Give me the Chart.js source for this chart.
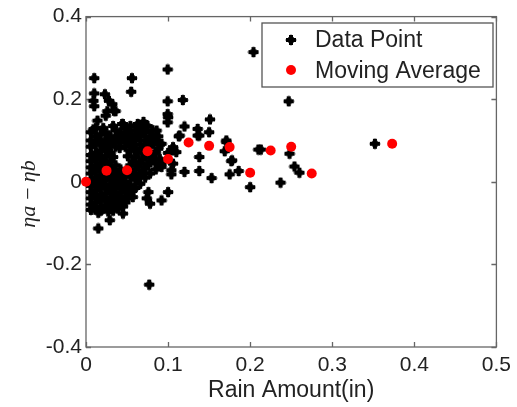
<!DOCTYPE html>
<html>
<head>
<meta charset="utf-8">
<script src="https://cdn.jsdelivr.net/npm/chart.js@4.4.0/dist/chart.umd.min.js"></script>
<style>
body { margin: 0; background: #fff; }
#wrap { width: 517px; height: 407px; }
</style>
</head>
<body>
<div id="wrap"><canvas id="myChart" width="517" height="407"></canvas></div>
<script>
// tick labels
var xTickLabels = ['0', '0.1', '0.2', '0.3', '0.4', '0.5'];
var yTickLabels = ['-0.4', '-0.2', '0', '0.2', '0.4'];

// moving average (rain amount, eta a - eta b)
var avgRain = [0, 0.025, 0.05, 0.075, 0.1, 0.125, 0.15, 0.175, 0.2, 0.225, 0.25, 0.275, 0.373];
var avgDiff = [0, 0.027, 0.028, 0.074, 0.055, 0.095, 0.087, 0.084, 0.022, 0.076, 0.085, 0.02, 0.092];

// scattered data points [rain, diff]
var outerPoints = [
    [0.01,0.251],[0.056,0.251],[0.0995,0.272],[0.055,0.218],[0.01,0.214],[0.023,0.212],
    [0.01,0.183],[0.028,0.196],[0.032,0.188],[0.026,0.171],[0.036,0.171],[0.0995,0.195],
    [0.0995,0.164],[0.0995,0.144],[0.014,0.148],[0.024,0.16],[0.204,0.314],[0.118,0.198],
    [0.1,0.156],[0.151,0.151],[0.12,0.134],[0.136,0.128],[0.136,0.112],[0.15,0.12],
    [0.171,0.1],[0.114,0.112],[0.138,0.112],[0.171,0.096],[0.169,0.074],[0.21,0.078],
    [0.138,0.06],[0.177,0.05],[0.12,0.024],[0.138,0.026],[0.153,0.009],[0.175,0.018],
    [0.186,0.026],[0.2,-0.013],[0.104,0.028],[0.104,0.018],[0.1,-0.025],[0.092,-0.045],
    [0.213,0.078],[0.248,0.068],[0.254,0.037],[0.26,0.022],[0.237,-0.002],[0.352,0.092],
    [0.247,0.195],[0.178,0.052],[0.113,0.11],[0.078,-0.053],[0.074,-0.04],[0.076,-0.025],
    [0.057,-0.037],[0.045,-0.077],[0.029,-0.093],[0.015,-0.113],[0.077,-0.249],[0.086,0.124],
    [0.084,0.108],[0.092,0.092],[0.08,0.06],[0.092,0.036],[0.106,0.084],[0.106,0.044],
    [0.11,0.072],[0.063,0.14],[0.034,0.172],[0.009,0.196],[0.1,0.07],[0.106,0.076],
    [0.092,0.044],[0.044,0.14],[0.07,0.145]
];

// the dense cluster near zero rain
var clusterPoints = [
    [0.006,0.12],[0.006,0.1],[0.006,0.085],[0.006,0.065],[0.006,0.05],[0.006,0.035],[0.006,0.02],
    [0.006,0.005],[0.006,-0.01],[0.006,-0.025],[0.006,-0.04],[0.006,-0.055],[0.006,-0.068],
    [0.012,0.13],[0.012,0.11],[0.012,0.09],[0.012,0.07],[0.012,0.055],[0.012,0.04],[0.012,0.025],
    [0.012,0.01],[0.012,-0.005],[0.012,-0.02],[0.012,-0.035],[0.012,-0.05],[0.012,-0.065],
    [0.018,0.115],[0.018,0.095],[0.018,0.075],[0.018,0.06],[0.018,0.045],[0.018,0.03],[0.018,0.015],
    [0.018,0.0],[0.018,-0.015],[0.018,-0.03],[0.018,-0.045],[0.018,-0.06],[0.018,-0.07],
    [0.024,0.12],[0.024,0.1],[0.024,0.08],[0.024,0.062],[0.024,0.048],[0.024,0.018],[0.024,0.005],
    [0.024,-0.01],[0.024,-0.028],[0.024,-0.042],[0.024,-0.058],
    [0.03,0.11],[0.03,0.09],[0.03,0.07],[0.03,0.05],[0.03,0.035],[0.03,0.022],[0.03,0.008],
    [0.03,-0.008],[0.03,-0.022],[0.03,-0.038],[0.03,-0.052],[0.03,-0.066],
    [0.036,0.125],[0.036,0.1],[0.036,0.085],[0.036,0.04],[0.036,0.015],[0.036,0.0],[0.036,-0.015],
    [0.036,-0.03],[0.036,-0.048],[0.036,-0.06],
    [0.042,0.12],[0.042,0.095],[0.042,0.03],[0.042,0.01],[0.042,-0.01],[0.042,-0.025],[0.042,-0.04],
    [0.042,-0.055],
    [0.048,0.13],[0.048,0.105],[0.048,0.085],[0.048,0.02],[0.048,0.0],[0.048,-0.02],[0.048,-0.035],
    [0.048,-0.05],
    [0.054,0.135],[0.054,0.115],[0.054,0.095],[0.054,0.075],[0.054,0.04],[0.054,0.012],[0.054,-0.008],
    [0.054,-0.028],
    [0.06,0.125],[0.06,0.1],[0.06,0.08],[0.06,0.06],[0.06,0.03],[0.06,0.005],[0.06,-0.015],
    [0.066,0.135],[0.066,0.11],[0.066,0.09],[0.066,0.045],[0.066,0.02],[0.066,-0.005],
    [0.072,0.12],[0.072,0.1],[0.072,0.065],[0.072,0.035],[0.072,0.01],
    [0.078,0.11],[0.078,0.085],[0.078,0.05],[0.078,0.02],
    [0.085,0.1],[0.085,0.07],[0.085,0.045],[0.085,0.03],
    [0.09,0.09],[0.09,0.055],
    [0.009,0.127],[0.009,0.092],[0.009,0.058],[0.009,0.028],[0.009,-0.002],[0.009,-0.032],[0.009,-0.062],
    [0.015,0.1],[0.015,0.065],[0.015,0.033],[0.015,0.0],[0.015,-0.04],[0.015,-0.075],
    [0.021,0.13],[0.021,0.085],[0.021,0.052],[0.021,0.022],[0.021,-0.008],[0.021,-0.038],[0.021,-0.065],
    [0.027,0.105],[0.027,0.075],[0.027,0.04],[0.027,0.012],[0.027,-0.018],[0.027,-0.048],[0.027,-0.072],
    [0.033,0.135],[0.033,0.095],[0.033,0.06],[0.033,0.028],[0.033,-0.004],[0.033,-0.04],[0.033,-0.07],
    [0.039,0.11],[0.039,0.022],[0.039,-0.005],[0.039,-0.035],[0.039,-0.065],
    [0.045,0.14],[0.045,0.11],[0.045,0.015],[0.045,-0.015],[0.045,-0.045],[0.045,-0.06],
    [0.051,0.12],[0.051,0.095],[0.051,0.03],[0.051,-0.01],[0.051,-0.04],
    [0.057,0.105],[0.057,0.085],[0.057,0.05],[0.057,0.02],[0.057,-0.02],
    [0.063,0.115],[0.063,0.07],[0.063,0.04],[0.063,0.01],
    [0.069,0.125],[0.069,0.08],[0.069,0.055],[0.069,0.025],
    [0.075,0.135],[0.075,0.095],[0.075,0.04],
    [0.081,0.125],[0.081,0.095],[0.081,0.065],
    [0.088,0.11],[0.088,0.08],
    [0.041,0.082],[0.051,0.062]
];

var allPoints = outerPoints.concat(clusterPoints);

// 4 point star marker like the matlab one
function starMarker(size) {
    var c = document.createElement('canvas');
    c.width = size; c.height = size;
    var g = c.getContext('2d');
    var m = size / 2;
    g.fillStyle = '#000';
    g.beginPath();
    g.moveTo(m, 0);
    g.quadraticCurveTo(m + 1.5, m - 1.5, size, m);
    g.quadraticCurveTo(m + 1.5, m + 1.5, m, size);
    g.quadraticCurveTo(m - 1.5, m + 1.5, 0, m);
    g.quadraticCurveTo(m - 1.5, m - 1.5, m, 0);
    g.fill();
    g.fillRect(m - 2, 1, 4, size - 2);
    g.fillRect(1, m - 2, size - 2, 4);
    g.beginPath();
    g.arc(m, m, 3.4, 0, Math.PI * 2);
    g.fill();
    return c;
}
var star = starMarker(12);

//box round the plot with inward ticks on every side
var framePlugin = {
    id: 'frame',
    beforeDatasetsDraw(chart) {
        var ctx = chart.ctx, a = chart.chartArea;
        var xs = chart.scales.x, ys = chart.scales.y;
        ctx.save();
        ctx.strokeStyle = '#666';
        ctx.lineWidth = 1.3;
        ctx.strokeRect(a.left, a.top, a.right - a.left, a.bottom - a.top);
        ctx.beginPath();
        xs.ticks.forEach(function(t) {
            var px = Math.round(xs.getPixelForValue(t.value)) + 0.5;
            ctx.moveTo(px, a.bottom); ctx.lineTo(px, a.bottom - 5);
            ctx.moveTo(px, a.top); ctx.lineTo(px, a.top + 5);
        });
        ys.ticks.forEach(function(t) {
            var py = Math.round(ys.getPixelForValue(t.value)) + 0.5;
            ctx.moveTo(a.left, py); ctx.lineTo(a.left + 5, py);
            ctx.moveTo(a.right, py); ctx.lineTo(a.right - 5, py);
        });
        ctx.stroke();
        ctx.restore();
    },
    afterDraw(chart) {
        var ctx = chart.ctx, a = chart.chartArea;
        ctx.save();
        // axis titles
        ctx.fillStyle = '#222';
        ctx.font = '23px "Liberation Sans", Arial, sans-serif';
        ctx.textAlign = 'center';
        ctx.textBaseline = 'middle';
        ctx.fillText('Rain Amount(in)', (a.left + a.right) / 2, a.bottom + 44);
        ctx.translate(29, 194);
        ctx.rotate(-Math.PI / 2);
        ctx.font = 'italic 22px "Liberation Serif", "DejaVu Serif", serif';
        ctx.fillText('\u03B7a\u2009\u2212\u2009\u03B7b', 0, 0);
        ctx.restore();

        // legend box
        ctx.save();
        var lx = 262, ly = 23, lw = 231, lh = 64;
        ctx.fillStyle = '#fff';
        ctx.fillRect(lx, ly, lw, lh);
        ctx.strokeStyle = '#555';
        ctx.lineWidth = 1.3;
        ctx.strokeRect(lx, ly, lw, lh);
        ctx.drawImage(star, 291 - 6, 40 - 6);
        ctx.fillStyle = 'red';
        ctx.beginPath();
        ctx.arc(291, 70, 5, 0, Math.PI * 2);
        ctx.fill();
        ctx.fillStyle = '#222';
        ctx.font = '23px "Liberation Sans", Arial, sans-serif';
        ctx.textBaseline = 'middle';
        ctx.fillText(chart.data.datasets[0].label, 315, 41);
        ctx.fillText(chart.data.datasets[1].label, 315, 72);
        ctx.restore();
    }
};

var ctx = document.getElementById('myChart').getContext('2d');
var myChart = new Chart(ctx, {
    type: 'scatter',
    data: {
        datasets: [{
            label: 'Data Point',
            data: allPoints.map(function(p) { return {x: p[0], y: p[1]}; }),
            pointStyle: star,
            order: 2,
            clip: false
        }, {
            label: 'Moving Average',
            data: avgRain.map(function(r, i) { return {x: r, y: avgDiff[i]}; }),
            pointStyle: 'circle',
            pointRadius: 5,
            backgroundColor: 'red',
            borderColor: 'red',
            borderWidth: 0,
            order: 1,
            clip: false
        }]
    },
    options: {
        responsive: false,
        animation: false,
        events: [],
        layout: { padding: { top: 15, right: 19, left: 0, bottom: 0 } },
        plugins: {
            legend: { display: false },
            tooltip: { enabled: false }
        },
        scales: {
            x: {
                type: 'linear',
                min: 0, max: 0.5,
                grid: { display: false, drawTicks: false },
                border: { display: false },
                afterFit: function(s) { s.height = 60; },
                ticks: {
                    stepSize: 0.1,
                    padding: 6,
                    color: '#222',
                    maxRotation: 0,
                    autoSkip: false,
                    font: { family: '"Liberation Sans", Arial, sans-serif', size: 21 },
                    callback: function(v, i) { return xTickLabels[i]; }
                }
            },
            y: {
                type: 'linear',
                min: -0.4, max: 0.4,
                grid: { display: false, drawTicks: false },
                border: { display: false },
                afterFit: function(s) { s.width = 86; },
                ticks: {
                    stepSize: 0.2,
                    padding: 4,
                    color: '#222',
                    autoSkip: false,
                    font: { family: '"Liberation Sans", Arial, sans-serif', size: 21 },
                    callback: function(v, i) { return yTickLabels[i]; }
                }
            }
        }
    },
    plugins: [framePlugin]
});
</script>
</body>
</html>
